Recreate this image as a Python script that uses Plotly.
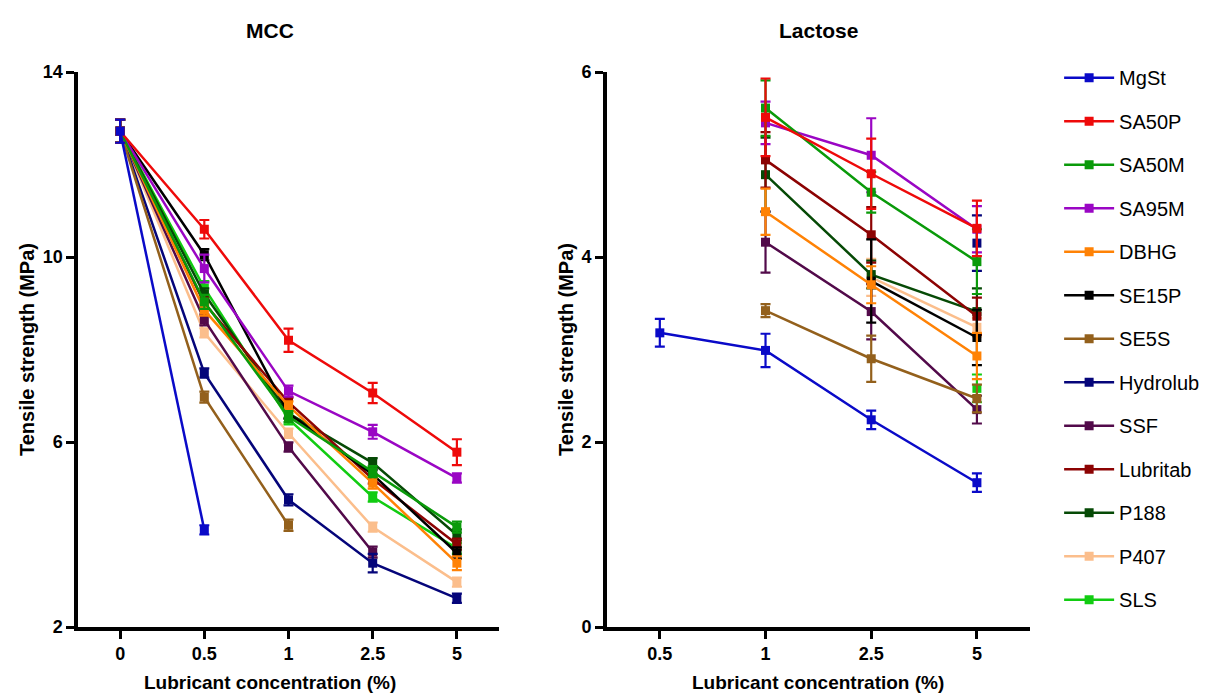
import plotly.graph_objects as go

series = ["MgSt", "SA50P", "SA50M", "SA95M", "DBHG", "SE15P", "SE5S",
          "Hydrolub", "SSF", "Lubritab", "P188", "P407", "SLS"]
colors = ["#0A0AC8", "#EE0A0A", "#0A9A0A", "#9A06C4", "#FF8205", "#000000", "#93601C",
          "#05057A", "#520A4A", "#8C0303", "#064A06", "#FBBE8C", "#12CC12"]

mcc_x = ["0", "0.5", "1", "2.5", "5"]
lac_x = ["0.5", "1", "2.5", "5"]

# MCC tensile strength (MPa)
mcc_y = {
    "MgSt":     [12.72, 4.10, None, None, None],
    "SA50P":    [12.72, 10.60, 8.20, 7.06, 5.78],
    "SA50M":    [12.72, 9.03, 6.55, 5.36, 4.16],
    "SA95M":    [12.72, 9.75, 7.10, 6.22, 5.22],
    "DBHG":     [12.72, 8.85, 6.78, 5.11, 3.38],
    "SE15P":    [12.72, 10.05, 6.62, 5.30, 3.60],
    "SE5S":     [12.72, 6.97, 4.20, None, None],
    "Hydrolub": [12.72, 7.49, 4.75, 3.38, 2.62],
    "SSF":      [12.72, 8.64, 5.89, 3.62, None],
    "Lubritab": [12.72, 9.00, 6.86, 5.20, 3.79],
    "P188":     [12.72, 9.20, 6.62, 5.55, 3.99],
    "P407":     [12.72, 8.36, 6.19, 4.16, 2.97],
    "SLS":      [12.72, 9.33, 6.50, 4.81, 3.70],
}
mcc_err = {
    "MgSt":     [0.25, 0.10, None, None, None],
    "SA50P":    [0.25, 0.20, 0.25, 0.22, 0.28],
    "SA50M":    [0.25, 0.15, 0.12, 0.12, 0.12],
    "SA95M":    [0.25, 0.30, 0.12, 0.15, 0.10],
    "DBHG":     [0.25, 0.12, 0.10, 0.12, 0.15],
    "SE15P":    [0.25, 0.12, 0.12, 0.10, 0.12],
    "SE5S":     [0.25, 0.12, 0.12, None, None],
    "Hydrolub": [0.25, 0.10, 0.12, 0.20, 0.10],
    "SSF":      [0.25, 0.12, 0.10, 0.12, None],
    "Lubritab": [0.25, 0.12, 0.10, 0.10, 0.12],
    "P188":     [0.25, 0.12, 0.10, 0.10, 0.12],
    "P407":     [0.25, 0.10, 0.10, 0.10, 0.10],
    "SLS":      [0.25, 0.15, 0.12, 0.10, 0.12],
}

# Lactose tensile strength (MPa)
lac_y = {
    "MgSt":     [3.18, 2.99, 2.24, 1.56],
    "SA50P":    [None, 5.51, 4.90, 4.31],
    "SA50M":    [None, 5.61, 4.70, 3.95],
    "SA95M":    [None, 5.45, 5.10, 4.30],
    "DBHG":     [None, 4.49, 3.70, 2.93],
    "SE15P":    [None, None, 3.74, 3.13],
    "SE5S":     [None, 3.42, 2.90, 2.47],
    "Hydrolub": [None, None, None, 4.15],
    "SSF":      [None, 4.16, 3.41, 2.35],
    "Lubritab": [None, 5.05, 4.24, 3.36],
    "P188":     [None, 4.89, 3.81, 3.41],
    "P407":     [None, None, 3.78, 3.24],
    "SLS":      [None, None, None, 2.58],
}
lac_err = {
    "MgSt":     [0.15, 0.18, 0.10, 0.10],
    "SA50P":    [None, 0.42, 0.38, 0.30],
    "SA50M":    [None, 0.30, 0.22, 0.35],
    "SA95M":    [None, 0.23, 0.40, 0.25],
    "DBHG":     [None, 0.25, 0.20, 0.25],
    "SE15P":    [None, None, 0.45, 0.30],
    "SE5S":     [None, 0.07, 0.25, 0.15],
    "Hydrolub": [None, None, None, 0.30],
    "SSF":      [None, 0.33, 0.30, 0.15],
    "Lubritab": [None, 0.30, 0.30, 0.20],
    "P188":     [None, 0.40, 0.15, 0.25],
    "P407":     [None, None, 0.20, 0.10],
    "SLS":      [None, None, None, 0.15],
}

FONT = "Liberation Sans, Arial, sans-serif"

fig = go.Figure()
n = len(series)
for i in reversed(range(n)):
    name = series[i]
    c = colors[i]
    for xs, ys, es, xa, ya, show in [
        (mcc_x, mcc_y, mcc_err, "x", "y", True),
        (lac_x, lac_y, lac_err, "x2", "y2", False),
    ]:
        fig.add_trace(go.Scatter(
            x=xs, y=ys[name], xaxis=xa, yaxis=ya,
            mode="lines+markers", name=name,
            legendgroup=name, showlegend=show, legendrank=i + 1,
            line=dict(color=c, width=2.5),
            marker=dict(symbol="square", size=9, color=c),
            error_y=dict(type="data", array=es[name], visible=True,
                         color=c, thickness=2.2, width=5),
            cliponaxis=False,
        ))

axis_common = dict(showline=True, linecolor="black", linewidth=3.5,
                   ticks="outside", ticklen=8, tickwidth=3, tickcolor="black",
                   showgrid=False, zeroline=False, automargin=False,
                   tickfont=dict(family=FONT, size=18, color="black", weight="bold"))

title_font = dict(family=FONT, size=20, weight="bold", color="black")

fig.update_layout(
    width=1223, height=695,
    margin=dict(l=0, r=0, t=72, b=68),
    paper_bgcolor="white", plot_bgcolor="white",
    font=dict(family=FONT, color="black"),
    xaxis=dict(domain=[0.0638, 0.408], type="category",
               categoryorder="array", categoryarray=mcc_x,
               range=[-0.5, 4.5], anchor="y", **axis_common),
    yaxis=dict(domain=[0, 1], range=[2, 14], tickvals=[2, 6, 10, 14],
               title=dict(text="Tensile strength (MPa)", standoff=4,
                          font=title_font),
               anchor="x", **axis_common),
    xaxis2=dict(domain=[0.4963, 0.842], type="category",
                categoryorder="array", categoryarray=lac_x,
                range=[-0.5, 3.5], anchor="y2", **axis_common),
    yaxis2=dict(domain=[0, 1], range=[0, 6], tickvals=[0, 2, 4, 6],
                title=dict(text="Tensile strength (MPa)", standoff=4,
                           font=title_font),
                anchor="x2", **axis_common),
    legend=dict(x=0.866, y=1.025, xanchor="left", yanchor="top",
                font=dict(family=FONT, size=20, color="black"),
                tracegroupgap=14.5, itemwidth=50, maxheight=690,
                bgcolor="rgba(0,0,0,0)"),
    annotations=[
        dict(text="<b>MCC</b>", xref="paper", yref="paper", x=0.2205, y=1.0,
             xanchor="center", yanchor="middle", yshift=42,
             showarrow=False, font=dict(family=FONT, size=21)),
        dict(text="<b>Lactose</b>", xref="paper", yref="paper", x=0.669, y=1.0,
             xanchor="center", yanchor="middle", yshift=42,
             showarrow=False, font=dict(family=FONT, size=21)),
        dict(text="<b>Lubricant concentration (%)</b>", xref="paper", yref="paper",
             x=0.2205, y=0, xanchor="center", yanchor="middle", yshift=-55,
             showarrow=False, font=dict(family=FONT, size=19)),
        dict(text="<b>Lubricant concentration (%)</b>", xref="paper", yref="paper",
             x=0.669, y=0, xanchor="center", yanchor="middle", yshift=-55,
             showarrow=False, font=dict(family=FONT, size=19)),
    ],
)

fig.write_html("out.html")
